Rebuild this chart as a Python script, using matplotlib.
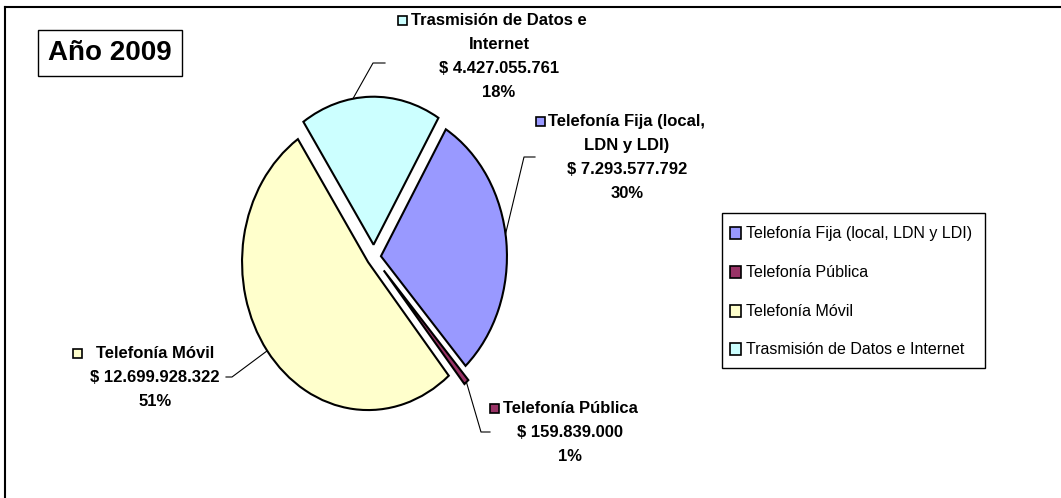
import numpy as np
import matplotlib
matplotlib.use("Agg")
import matplotlib.pyplot as plt
from matplotlib.patches import Rectangle

plt.rcParams['font.family'] = ['Liberation Sans', 'DejaVu Sans']

# data
categories = ['Telefonía Fija (local, LDN y LDI)', 'Telefonía Pública',
              'Telefonía Móvil', 'Trasmisión de Datos e Internet']
values = [7293577792, 159839000, 12699928322, 4427055761]
value_labels = ['$ 7.293.577.792', '$ 159.839.000', '$ 12.699.928.322', '$ 4.427.055.761']
pct_labels = ['30%', '1%', '51%', '18%']
name_lines = [['Telefonía Fija (local,', 'LDN y LDI)'], ['Telefonía Pública'],
              ['Telefonía Móvil'], ['Trasmisión de Datos e', 'Internet']]
colors = ['#9999FF', '#993366', '#FFFFCC', '#CCFFFF']
explode = [0.057, 0.12, 0.057, 0.083]

W, H = 1061, 498
fig = plt.figure(figsize=(W / 100, H / 100), dpi=100)

# overlay axes in pixel coords (y down)
ov = fig.add_axes([0, 0, 1, 1])
ov.set_xlim(0, W)
ov.set_ylim(H, 0)
ov.axis('off')

# pie axes: elliptical pie (rx ~126 px, ry ~150 px)
cx, cy, rx, ry, L = 373.8, 257, 126, 148, 1.25
aw, ah = 2 * L * rx, 2 * L * ry
ax = fig.add_axes([(cx - aw / 2) / W, (H - cy - ah / 2) / H, aw / W, ah / H])
wedges, _ = ax.pie(values, colors=colors, explode=explode, startangle=59,
                   counterclock=False,
                   wedgeprops=dict(edgecolor='black', linewidth=1.5))
ax.set_aspect('auto')
ax.set_xlim(-L, L)
ax.set_ylim(-L, L)
ax.axis('off')

# outer frame (partial, like the screenshot)
ov.plot([5, W], [7, 7], color='black', lw=1.5)
ov.plot([5, 5], [7, H], color='black', lw=1.5)

# title box
ov.text(110, 53, 'Año 2009', fontsize=20, fontweight='bold', ha='center', va='center',
        bbox=dict(boxstyle='square,pad=0.35', fc='white', ec='black', lw=1))

# label layout: center x, first line y, leader elbow and end, anchor angle shift
label_cx = [627, 570, 155, 499]
label_y0 = [121, 408, 353, 20]
leader = [[(524, 157), (535, 157)], [(481, 432), (490, 432)],
          [(232, 377), (226, 377)], [(373, 63), (385, 63)]]
anchor_shift = [3, 0, 0, 8]
spacing = 24

fig.canvas.draw()
renderer = fig.canvas.get_renderer()

for i, w in enumerate(wedges):
    lines = name_lines[i] + [value_labels[i], pct_labels[i]]
    first = None
    for j, s in enumerate(lines):
        t = ov.text(label_cx[i], label_y0[i] + j * spacing, s, fontsize=12,
                    fontweight='bold', ha='center', va='center')
        if j == 0:
            first = t
    bb = first.get_window_extent(renderer=renderer)
    gap = 14 if i == 2 else 4
    ov.add_patch(Rectangle((bb.x0 - gap - 9, label_y0[i] - 4.5), 9, 9,
                           fc=colors[i], ec='black', lw=1.2))
    # leader line from the wedge edge
    mid = np.deg2rad((w.theta1 + w.theta2) / 2 + anchor_shift[i])
    px, py = w.center[0] + w.r * np.cos(mid), w.center[1] + w.r * np.sin(mid)
    dx, dy = ax.transData.transform((px, py))
    pts = [(dx, H - dy)] + leader[i]
    ov.plot([p[0] for p in pts], [p[1] for p in pts], color='black', lw=0.8)

# legend
lx0, ly0, lx1, ly1 = 722, 213, 985, 368
ov.add_patch(Rectangle((lx0, ly0), lx1 - lx0, ly1 - ly0, fc='white', ec='black', lw=1))
leg_y = [233, 272, 311, 349]
for i, name in enumerate(categories):
    ov.add_patch(Rectangle((730, leg_y[i] - 6), 11, 12, fc=colors[i], ec='black', lw=1.2))
    ov.text(746, leg_y[i], name, fontsize=11.5, ha='left', va='center')

fig.savefig('out.png', dpi=100)
